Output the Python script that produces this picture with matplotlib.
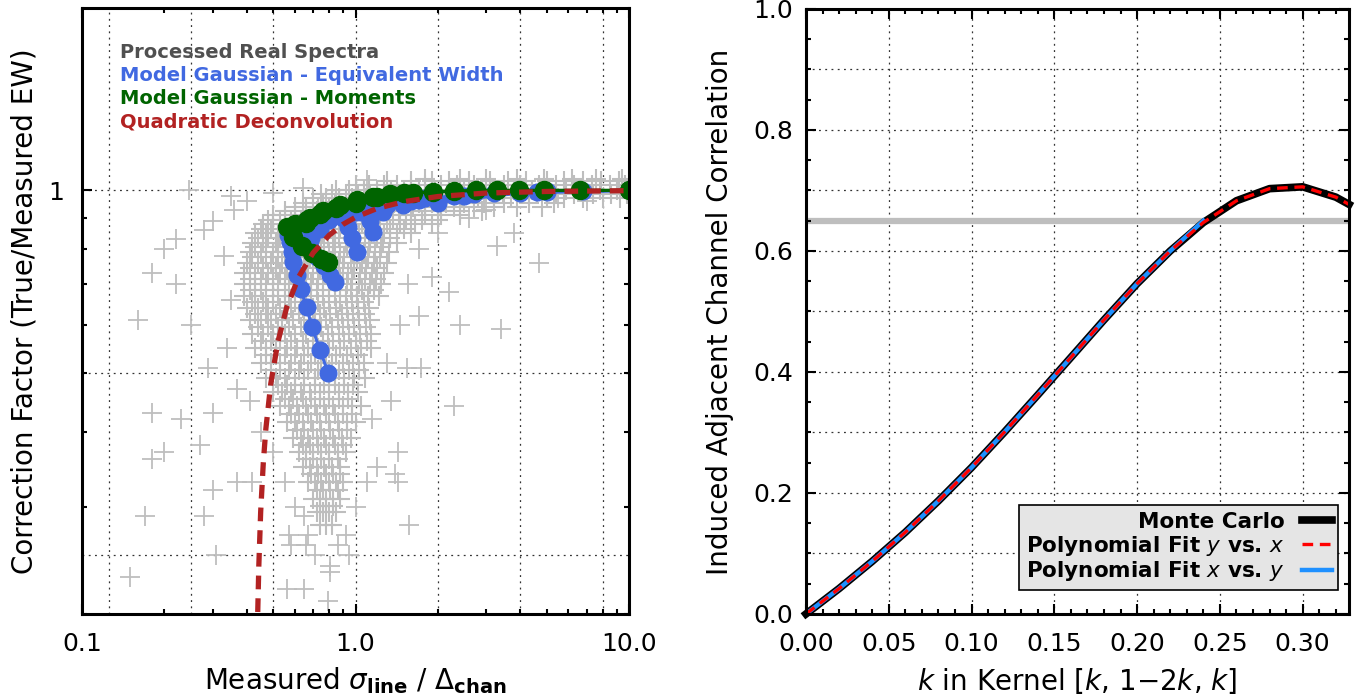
import numpy as np
import matplotlib
matplotlib.use('Agg')
import matplotlib.pyplot as plt
from matplotlib.ticker import FixedLocator, NullFormatter, FixedFormatter, MultipleLocator, FormatStrFormatter

plt.rcParams['font.family'] = ['DejaVu Sans']
plt.rcParams['mathtext.fontset'] = 'dejavusans'

# ---------------- left panel data ----------------
# processed real spectra, dense part read row by row: (factor, [sigma, ...])
real_rows = [
    (1.045, [1.8, 2.4, 3.0, 3.9, 4.9, 6.2, 7.6, 9.4]),
    (1.035, [1.3, 1.6, 1.9, 2.2, 2.6, 3.1, 3.6, 4.2, 5.0, 5.8, 6.8, 7.9, 9.2]),
    (1.02, [1.0, 1.12, 1.27, 1.42, 1.6, 1.8, 2.05, 2.35, 2.7, 3.1, 3.5, 4.0, 4.7, 5.4, 6.3, 7.3, 8.5, 9.7]),
    (1.00, [0.85, 0.95, 1.07, 1.2, 1.35, 1.5, 1.7, 1.95, 2.2, 2.5, 2.9, 3.3, 3.8, 4.4, 5.1, 5.9, 6.8, 7.8, 9.0, 9.8]),
    (0.985, [0.75, 0.82, 0.92, 1.02, 1.13, 1.27, 1.42, 1.6, 1.8, 2.02, 2.3, 2.6, 3.0, 3.45, 4.0, 4.6, 5.4, 6.3, 7.4, 8.6, 9.8]),
    (0.97, [0.7, 0.78, 0.87, 0.97, 1.08, 1.2, 1.35, 1.52, 1.7, 1.92, 2.15, 2.45, 2.8, 3.2, 3.7, 4.3, 5.0, 5.8, 6.8, 8.0, 9.3]),
    (0.955, [0.64, 0.7, 0.76, 0.84, 0.92, 1.02, 1.12, 1.24, 1.38, 1.53, 1.7, 1.9, 2.15, 2.5, 2.95, 3.5, 4.3, 5.3]),
    (0.94, [0.6, 0.66, 0.73, 0.8, 0.88, 0.97, 1.07, 1.18, 1.3, 1.45, 1.62, 1.8, 2.0, 2.3, 2.7, 3.2, 3.9, 4.8]),
    (0.925, [0.55, 0.6, 0.66, 0.72, 0.79, 0.87, 0.96, 1.06, 1.17, 1.3, 1.44, 1.6, 1.8, 2.05, 2.4, 2.9]),
    (0.91, [0.5, 0.55, 0.6, 0.66, 0.72, 0.79, 0.87, 0.96, 1.06, 1.17, 1.3, 1.44, 1.6, 1.8, 2.05, 2.4]),
    (0.895, [0.48, 0.53, 0.58, 0.63, 0.69, 0.76, 0.83, 0.91, 1.0, 1.11, 1.23, 1.37, 1.53, 1.75, 2.0]),
    (0.88, [0.46, 0.5, 0.55, 0.6, 0.66, 0.72, 0.79, 0.87, 0.96, 1.06, 1.17, 1.3, 1.45, 1.65, 1.9]),
    (0.865, [0.45, 0.49, 0.54, 0.6, 0.66, 0.72, 0.8, 0.88, 0.97, 1.08, 1.2, 1.34, 1.5]),
    (0.85, [0.43, 0.47, 0.52, 0.57, 0.63, 0.69, 0.76, 0.84, 0.93, 1.03, 1.14, 1.27, 1.42, 1.6]),
    (0.835, [0.44, 0.48, 0.53, 0.59, 0.65, 0.72, 0.79, 0.87, 0.97, 1.08, 1.2, 1.34]),
    (0.82, [0.42, 0.46, 0.51, 0.56, 0.62, 0.68, 0.75, 0.83, 0.92, 1.02, 1.13, 1.26, 1.42]),
    (0.805, [0.43, 0.47, 0.52, 0.58, 0.63, 0.7, 0.77, 0.84, 0.93, 1.02, 1.12, 1.24]),
    (0.79, [0.41, 0.45, 0.5, 0.55, 0.6, 0.66, 0.73, 0.8, 0.88, 0.97, 1.07, 1.18, 1.32]),
    (0.775, [0.42, 0.47, 0.52, 0.57, 0.62, 0.68, 0.75, 0.83, 0.91, 1.01, 1.11, 1.23]),
    (0.76, [0.40, 0.44, 0.49, 0.54, 0.59, 0.65, 0.72, 0.79, 0.87, 0.96, 1.06, 1.17, 1.3]),
    (0.745, [0.41, 0.46, 0.51, 0.56, 0.61, 0.67, 0.74, 0.81, 0.9, 0.99, 1.09, 1.2]),
    (0.73, [0.39, 0.43, 0.48, 0.53, 0.58, 0.64, 0.7, 0.77, 0.85, 0.94, 1.04, 1.15, 1.27]),
    (0.715, [0.41, 0.45, 0.5, 0.55, 0.6, 0.66, 0.73, 0.8, 0.88, 0.97, 1.08, 1.19]),
    (0.70, [0.39, 0.43, 0.47, 0.52, 0.57, 0.63, 0.69, 0.76, 0.84, 0.93, 1.03, 1.13, 1.24]),
    (0.685, [0.41, 0.45, 0.5, 0.55, 0.6, 0.66, 0.72, 0.8, 0.88, 0.96, 1.06, 1.17]),
    (0.67, [0.39, 0.43, 0.47, 0.52, 0.57, 0.63, 0.69, 0.76, 0.84, 0.92, 1.01, 1.11, 1.22]),
    (0.655, [0.42, 0.46, 0.5, 0.55, 0.6, 0.66, 0.73, 0.8, 0.88, 0.97, 1.07]),
    (0.64, [0.4, 0.44, 0.48, 0.53, 0.58, 0.64, 0.7, 0.77, 0.85, 0.93, 1.02, 1.12]),
    (0.625, [0.43, 0.47, 0.51, 0.56, 0.62, 0.68, 0.74, 0.81, 0.89, 0.98, 1.08]),
    (0.61, [0.41, 0.45, 0.49, 0.54, 0.59, 0.65, 0.71, 0.78, 0.86, 0.94, 1.03, 1.13]),
    (0.595, [0.44, 0.48, 0.52, 0.57, 0.63, 0.69, 0.75, 0.82, 0.9, 0.99, 1.09]),
    (0.58, [0.42, 0.46, 0.5, 0.55, 0.6, 0.66, 0.72, 0.79, 0.87, 0.95, 1.04, 1.14]),
    (0.565, [0.45, 0.49, 0.53, 0.58, 0.64, 0.7, 0.76, 0.83, 0.91, 1.0, 1.1]),
    (0.55, [0.43, 0.47, 0.51, 0.56, 0.61, 0.67, 0.73, 0.8, 0.88, 0.96, 1.05, 1.14]),
    (0.535, [0.47, 0.51, 0.55, 0.6, 0.65, 0.71, 0.78, 0.85, 0.93, 1.02]),
    (0.52, [0.45, 0.49, 0.53, 0.58, 0.63, 0.69, 0.75, 0.82, 0.9, 0.98, 1.07]),
    (0.505, [0.49, 0.53, 0.57, 0.62, 0.67, 0.73, 0.8, 0.87, 0.95, 1.03]),
    (0.49, [0.47, 0.51, 0.55, 0.6, 0.65, 0.71, 0.77, 0.84, 0.91, 0.99, 1.08]),
    (0.477, [0.52, 0.56, 0.6, 0.65, 0.71, 0.77, 0.84, 0.91, 0.98]),
    (0.465, [0.5, 0.54, 0.58, 0.63, 0.68, 0.74, 0.8, 0.87, 0.94, 1.02]),
    (0.452, [0.55, 0.59, 0.64, 0.69, 0.74, 0.8, 0.87, 0.94]),
    (0.44, [0.53, 0.57, 0.61, 0.66, 0.71, 0.77, 0.83, 0.9, 0.97, 1.05]),
    (0.427, [0.58, 0.62, 0.67, 0.72, 0.78, 0.84, 0.9, 0.97]),
    (0.415, [0.56, 0.6, 0.64, 0.69, 0.74, 0.8, 0.86, 0.93, 1.0]),
    (0.402, [0.61, 0.65, 0.7, 0.75, 0.81, 0.87, 0.93]),
    (0.39, [0.59, 0.63, 0.67, 0.72, 0.77, 0.83, 0.89, 0.96]),
    (0.38, [0.64, 0.68, 0.73, 0.78, 0.84, 0.9]),
    (0.37, [0.62, 0.66, 0.7, 0.75, 0.8, 0.86, 0.92]),
    (0.36, [0.66, 0.7, 0.75, 0.8, 0.86]),
    (0.35, [0.64, 0.68, 0.72, 0.77, 0.82, 0.88]),
    (0.34, [0.69, 0.73, 0.78, 0.83, 0.88]),
    (0.33, [0.67, 0.71, 0.75, 0.8, 0.85, 0.9]),
    (0.32, [0.72, 0.76, 0.81, 0.86]),
    (0.31, [0.7, 0.74, 0.78, 0.83, 0.88]),
    (0.302, [0.74, 0.78, 0.83]),
    (0.295, [0.72, 0.76, 0.8, 0.85]),
    (0.28, [0.74, 0.78, 0.82]),
]
# scattered real spectra away from the core
stray_sigma = [0.246, 0.40, 0.36, 0.30, 0.28, 0.22, 0.20, 0.18, 0.22, 0.16, 0.25, 3.3, 3.8, 4.7,
               2.2, 1.9, 1.7, 2.4, 3.4, 0.29, 1.54, 1.73, 2.3, 0.18, 0.23, 0.30, 0.27, 0.18, 0.20,
               1.43, 1.2, 1.4, 1.43, 0.30, 0.37, 0.42, 0.17, 0.28, 1.57, 0.57, 0.67, 0.58, 0.66,
               0.31, 0.71, 0.81, 0.81, 0.15, 0.56, 0.65, 0.79, 0.33, 0.35, 0.34, 0.37, 0.41, 0.45,
               0.5, 0.55, 0.6, 0.65, 0.92, 1.0, 1.1, 0.95, 0.86, 1.35, 1.3, 1.45, 1.55, 1.7, 2.0,
               2.6, 3.0, 1.15, 5.5, 7.0, 0.35, 0.5, 0.64, 1.1]
stray_factor = [1.0, 0.96, 0.93, 0.89, 0.86, 0.83, 0.80, 0.73, 0.70, 0.61, 0.60, 0.81, 0.85, 0.76,
                0.68, 0.72, 0.62, 0.60, 0.59, 0.51, 0.51, 0.51, 0.44, 0.43, 0.42, 0.43, 0.38, 0.36, 0.37,
                0.37, 0.35, 0.34, 0.33, 0.32, 0.33, 0.33, 0.29, 0.29, 0.28, 0.27, 0.27, 0.26, 0.26,
                0.25, 0.25, 0.24, 0.235, 0.23, 0.22, 0.22, 0.21, 0.78, 0.66, 0.55, 0.47, 0.45, 0.40,
                0.37, 0.33, 0.30, 0.29, 0.27, 0.30, 0.33, 0.25, 0.26, 0.45, 0.52, 0.60, 0.70, 0.80, 0.85,
                0.90, 0.93, 0.42, 0.97, 0.96, 0.98, 0.99, 1.01, 1.04]

# model gaussian, equivalent width (one list per model curve)
ew_sigma = [
    [10.0, 6.8, 4.6, 3.2, 2.3, 1.7, 1.3, 1.0, 0.8, 0.67, 0.6, 0.565, 0.576, 0.584, 0.592,
     0.61, 0.63, 0.663, 0.692, 0.742, 0.795],
    [10.0, 5.0, 2.5, 1.6, 1.15, 0.9, 0.74, 0.69, 0.68, 0.72, 0.77, 0.81, 0.84],
    [10.0, 5.0, 2.7, 1.8, 1.3, 1.05, 0.94, 0.97, 1.01],
    [10.0, 4.0, 2.0, 1.49, 1.26, 1.13, 1.16],
]
ew_factor = [
    [1.0, 0.998, 0.995, 0.99, 0.98, 0.965, 0.945, 0.92, 0.895, 0.875, 0.86, 0.845, 0.823, 0.792,
     0.763, 0.725, 0.687, 0.641, 0.596, 0.545, 0.499],
    [1.0, 0.995, 0.98, 0.96, 0.93, 0.9, 0.865, 0.835, 0.805, 0.775, 0.75, 0.725, 0.706],
    [1.0, 0.996, 0.985, 0.97, 0.95, 0.92, 0.87, 0.835, 0.79],
    [1.0, 0.99, 0.955, 0.945, 0.92, 0.89, 0.855],
]
# model gaussian, moments
mom_sigma = [
    [10.0, 6.6, 4.9, 3.96, 3.28, 2.76, 2.3, 1.92, 1.62, 1.34, 1.16, 1.01, 0.877, 0.76, 0.663,
     0.6, 0.56, 0.592, 0.636, 0.692, 0.75, 0.795],
    [1.5, 1.2, 1.0, 0.85, 0.74, 0.68, 0.66],
]
mom_factor = [
    [1.0, 1.0, 1.0, 1.0, 1.0, 1.0, 0.997, 0.995, 0.99, 0.985, 0.976, 0.966, 0.946, 0.926, 0.894,
     0.88, 0.871, 0.838, 0.81, 0.787, 0.77, 0.763],
    [0.99, 0.975, 0.955, 0.935, 0.915, 0.9, 0.885],
]
# quadratic deconvolution
quad_sigma = [0.439, 0.443, 0.45, 0.46, 0.47, 0.49, 0.52, 0.56, 0.62, 0.7, 0.8, 0.9, 1.0, 1.2,
              1.5, 2.0, 3.0, 5.0, 10.0]
quad_factor = [0.2015, 0.240, 0.295, 0.355, 0.404, 0.480, 0.562, 0.641, 0.720, 0.789, 0.843,
               0.879, 0.903, 0.934, 0.958, 0.977, 0.990, 0.996, 0.999]

left_labels = ['Processed Real Spectra', 'Model Gaussian - Equivalent Width',
               'Model Gaussian - Moments', 'Quadratic Deconvolution']
left_colors = ['#505050', '#4169E1', '#006400', '#B22222']

# ---------------- right panel data ----------------
k_vals = [0.0, 0.02, 0.04, 0.06, 0.08, 0.10, 0.12, 0.14, 0.16, 0.18, 0.20, 0.22, 0.24, 0.26,
          0.28, 0.30, 0.32, 0.328]
corr_mc = [0.0, 0.042, 0.087, 0.135, 0.187, 0.242, 0.301, 0.362, 0.424, 0.486, 0.546, 0.600,
           0.647, 0.683, 0.703, 0.706, 0.689, 0.677]
corr_fit_yx = [0.0, 0.042, 0.087, 0.135, 0.187, 0.242, 0.301, 0.362, 0.424, 0.486, 0.546, 0.600,
               0.647, 0.683, 0.703, 0.706, 0.689, 0.677]
k_fit_xy = [0.0, 0.02, 0.04, 0.06, 0.08, 0.10, 0.12, 0.14, 0.16, 0.18, 0.20, 0.22, 0.24]
corr_fit_xy = [0.0, 0.042, 0.087, 0.135, 0.187, 0.242, 0.301, 0.362, 0.424, 0.486, 0.546, 0.600, 0.650]
corr_threshold = 0.65

fig = plt.figure(figsize=(13.58, 7), dpi=100)

grid_kw = dict(color='0.2', lw=0.9, linestyle=(0, (1.5, 3.5)), zorder=0)

# ================= left panel =================
ax1 = fig.add_axes([0.0604, 0.1229, 0.4028, 0.8657])
ax1.set_xscale('log')
ax1.set_yscale('log')

for gx in [0.125, 0.25, 0.5, 1.0, 2.0, 4.0, 8.0]:
    ax1.axvline(gx, **grid_kw)
for gy in [0.25, 0.5, 1.0]:
    ax1.axhline(gy, **grid_kw)

real_sigma = [s for f, row in real_rows for s in row]
real_factor = [f for f, row in real_rows for s in row]
ax1.plot(real_sigma, real_factor, '+', color='#bebebe', ms=15, mew=1.5, zorder=1)
ax1.plot(stray_sigma, stray_factor, '+', color='#bebebe', ms=14, mew=1.3, zorder=1)

for xs, ys in zip(ew_sigma, ew_factor):
    ax1.plot(xs, ys, '-o', color='#4169E1', lw=2.2, ms=12, zorder=2)
for xs, ys in zip(mom_sigma, mom_factor):
    ax1.plot(xs, ys, '-o', color='#006400', lw=2.4, ms=13, zorder=3)
ax1.plot(quad_sigma, quad_factor, color='#B22222', lw=3.8, dashes=(2.6, 1.7), zorder=4)

ax1.set_xlim(0.1, 10)
ax1.set_ylim(0.2, 2.0)
ax1.xaxis.set_major_locator(FixedLocator([0.1, 1.0, 10.0]))
ax1.xaxis.set_major_formatter(FixedFormatter(['0.1', '1.0', '10.0']))
ax1.xaxis.set_minor_locator(FixedLocator([m * d for d in (0.1, 1.0) for m in range(2, 10)]))
ax1.xaxis.set_minor_formatter(NullFormatter())
ax1.yaxis.set_major_locator(FixedLocator([1.0]))
ax1.yaxis.set_major_formatter(FixedFormatter(['1']))
ax1.yaxis.set_minor_locator(FixedLocator([0.2, 0.3, 0.4, 0.5, 0.6, 0.7, 0.8, 0.9]))
ax1.yaxis.set_minor_formatter(NullFormatter())

for i, (lab, col) in enumerate(zip(left_labels, left_colors)):
    ax1.text(0.069, 0.927 - i * 0.0385, lab, color=col, fontsize=14, fontweight='bold',
             va='center', ha='left', transform=ax1.transAxes)

ax1.set_xlabel(r'Measured $\sigma_{\mathbf{line}}$ / $\Delta_{\mathbf{chan}}$', fontsize=20, va='center')
ax1.xaxis.set_label_coords(0.5, -0.11)
ax1.set_ylabel('Correction Factor (True/Measured EW)', fontsize=20, va='center')
ax1.yaxis.set_label_coords(-0.106, 0.5)

# ================= right panel =================
ax2 = fig.add_axes([0.5935, 0.1229, 0.3999, 0.8643])
for gx in np.arange(0.05, 0.33, 0.05):
    ax2.axvline(gx, **grid_kw)
for gy in np.arange(0.1, 1.0, 0.1):
    ax2.axhline(gy, **grid_kw)

ax2.axhline(corr_threshold, color='#bebebe', lw=4.5, zorder=1)
ax2.plot(k_vals, corr_mc, color='black', lw=5.5, zorder=2, label='Monte Carlo', clip_on=False)
ax2.plot(k_vals, corr_fit_yx, color='#FF0000', lw=2.4, dashes=(3.2, 2.0), zorder=4,
         label=r'Polynomial Fit $y$ vs. $x$')
ax2.plot(k_fit_xy, corr_fit_xy, color='#1E90FF', lw=3.2, zorder=3,
         label=r'Polynomial Fit $x$ vs. $y$')

ax2.set_xlim(0, 0.328)
ax2.set_ylim(0, 1.0)
ax2.xaxis.set_major_locator(MultipleLocator(0.05))
ax2.xaxis.set_minor_locator(MultipleLocator(0.01))
ax2.xaxis.set_major_formatter(FormatStrFormatter('%.2f'))
ax2.yaxis.set_major_locator(MultipleLocator(0.2))
ax2.yaxis.set_minor_locator(MultipleLocator(0.05))
ax2.yaxis.set_major_formatter(FormatStrFormatter('%.1f'))

leg = ax2.legend(loc='lower right', bbox_to_anchor=(0.98, 0.04), borderaxespad=0,
                 markerfirst=False, fancybox=False, framealpha=1, facecolor='#e5e5e5',
                 edgecolor='black', prop=dict(size=15.5, weight='bold'), handlelength=1.4,
                 handletextpad=0.8, labelspacing=0.08, borderpad=0.3)
leg.get_frame().set_linewidth(1.2)
leg.set_zorder(6)

ax2.set_xlabel(r'$k$ in Kernel [$k$, 1$-$2$k$, $k$]', fontsize=20, va='center')
ax2.xaxis.set_label_coords(0.5, -0.11)
ax2.set_ylabel('Induced Adjacent Channel Correlation', fontsize=20, va='center')
ax2.yaxis.set_label_coords(-0.158, 0.5)

for ax in (ax1, ax2):
    for sp in ax.spines.values():
        sp.set_linewidth(2.2)
        sp.set_zorder(7)
    ax.tick_params(which='both', direction='in', top=True, right=True, width=1.5,
                   labelsize=18, pad=13)
    ax.tick_params(which='major', length=7)
    ax.tick_params(which='minor', length=3.8)
ax2.tick_params(axis='y', pad=9)

fig.savefig('out.png', dpi=100)
